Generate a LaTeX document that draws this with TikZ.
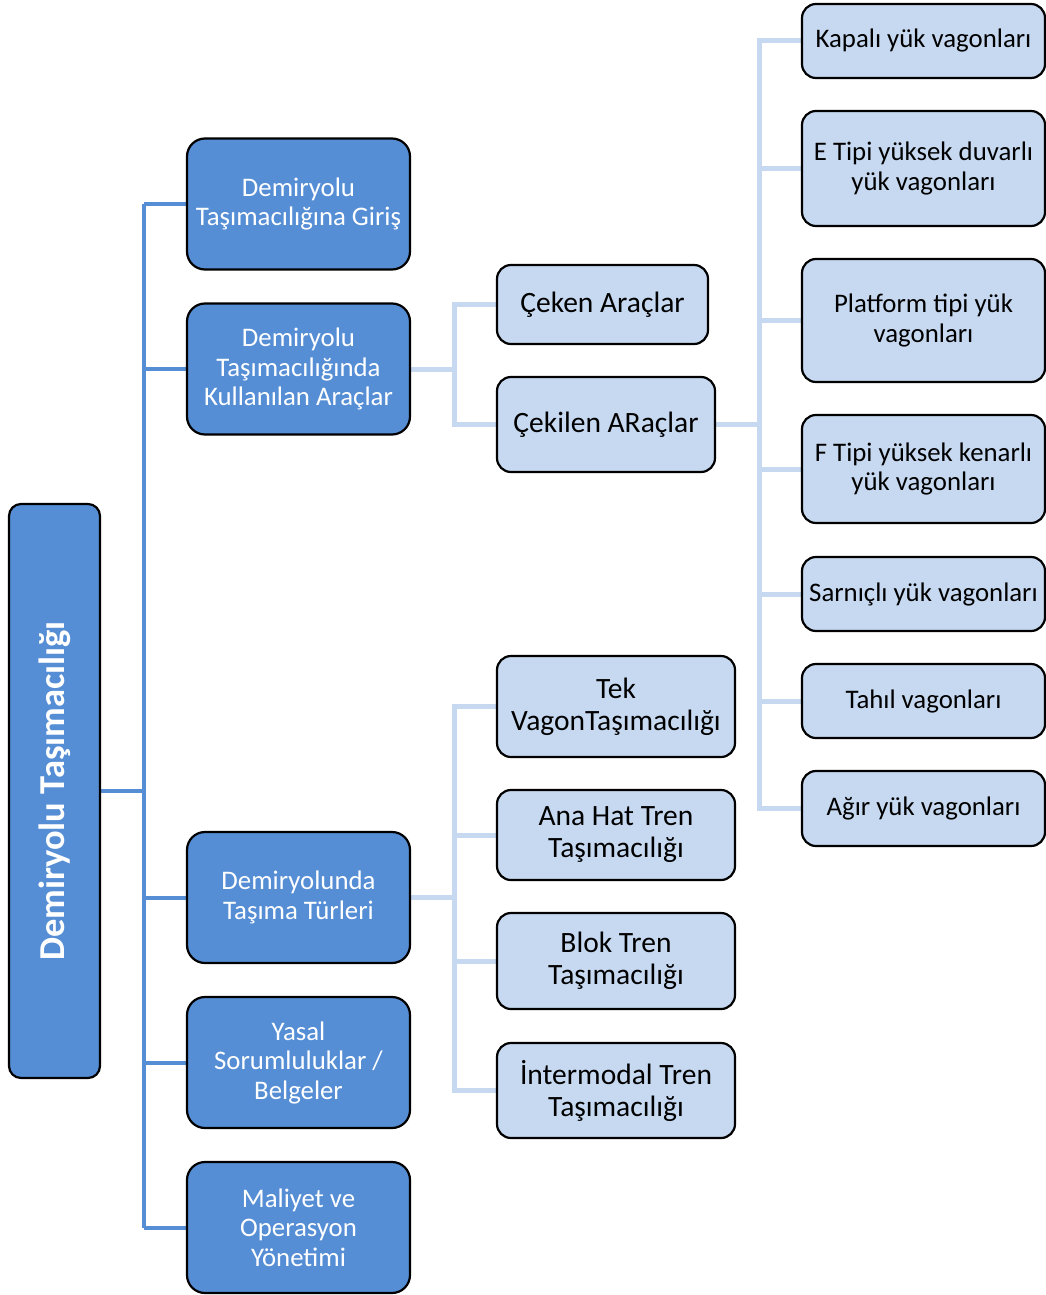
\documentclass[tikz,border=0pt]{standalone}
\usepackage{fontspec}
\setmainfont{Carlito}
\usetikzlibrary{backgrounds}

\definecolor{dkblue}{HTML}{558ED5}
\definecolor{ltblue}{HTML}{C6D9F1}

\tikzset{
  basebox/.style={draw=black, line width=2.2pt, align=center, inner sep=0pt},
  rootbox/.style={basebox, rounded corners=12pt, fill=dkblue, text=white,
    font=\fontsize{36.5}{40}\selectfont\bfseries},
  topic/.style={basebox, rounded corners=18pt, fill=dkblue, text=white,
    font=\fontsize{26.8}{29.5}\selectfont, minimum width=223pt, minimum height=131pt},
  sub/.style={basebox, rounded corners=14pt, fill=ltblue, text=black,
    font=\fontsize{29.5}{32}\selectfont},
  leaf/.style={basebox, rounded corners=14pt, fill=ltblue, text=black,
    font=\fontsize{26.8}{29.5}\selectfont, minimum width=243pt},
  darkline/.style={draw=dkblue, line width=4pt},
  lightline/.style={draw=ltblue, line width=5pt},
}

\begin{document}
\begin{tikzpicture}[x=1pt, y=-1pt]
\useasboundingbox (0,0) rectangle (1046,1295);

% root
\node[rootbox, rotate=90, minimum width=574pt, minimum height=91pt] (root) at (54.5,791) {Demiryolu Taşımacılığı};

% first level
\node[topic] (giris) at (298.5,204) {Demiryolu\\Taşımacılığına Giriş};
\node[topic] (araclar) at (298.5,369) {Demiryolu\\Taşımacılığında\\Kullanılan Araçlar};
\node[topic] (turler) at (298.5,897.5) {Demiryolunda\\Taşıma Türleri};
\node[topic] (yasal) at (298.5,1062.5) {Yasal\\Sorumluluklar /\\Belgeler};
\node[topic] (maliyet) at (298.5,1227.5) {Maliyet ve\\Operasyon\\Yönetimi};

% vehicles
\node[sub, minimum width=211pt, minimum height=79pt] (ceken) at (602.5,304.5) {Çeken Araçlar};
\node[sub, minimum width=218pt, minimum height=95pt] (cekilen) at (606,424.5) {Çekilen ARaçlar};

% transport types
\node[sub, minimum width=238pt, minimum height=101pt] (tek) at (616,706.5) {Tek\\VagonTaşımacılığı};
\node[sub, minimum width=238pt, minimum height=90pt] (anahat) at (616,835) {Ana Hat Tren\\Taşımacılığı};
\node[sub, minimum width=238pt, minimum height=96pt] (blok) at (616,961) {Blok Tren\\Taşımacılığı};
\node[sub, minimum width=238pt, minimum height=95pt] (inter) at (616,1090.5) {İntermodal Tren\\Taşımacılığı};

% wagon kinds
\node[leaf, minimum height=74pt] (kapali) at (923.5,41) {Kapalı yük vagonları};
\node[leaf, minimum height=115pt] (etipi) at (923.5,168.5) {E Tipi yüksek duvarlı\\yük vagonları};
\node[leaf, minimum height=123pt] (platform) at (923.5,320.5) {Platform tipi yük\\vagonları};
\node[leaf, minimum height=108pt] (ftipi) at (923.5,469) {F Tipi yüksek kenarlı\\yük vagonları};
\node[leaf, minimum height=74pt] (sarnicli) at (923.5,594) {Sarnıçlı yük vagonları};
\node[leaf, minimum height=74pt] (tahil) at (923.5,701) {Tahıl vagonları};
\node[leaf, minimum height=75pt] (agir) at (923.5,808.5) {Ağır yük vagonları};

% branch columns
\coordinate (trunkA) at (144,0);
\coordinate (trunkB) at (454,0);
\coordinate (trunkC) at (759,0);

\begin{pgfonlayer}{background}
  % main trunk
  \draw[darkline] (root.south) -- (trunkA |- root.south);
  \draw[darkline] (trunkA |- giris.west) -- (trunkA |- maliyet.west);
  \foreach \n in {giris,araclar,turler,yasal,maliyet}
    \draw[darkline] (trunkA |- \n.west) -- (\n.west);

  % vehicles branch
  \draw[lightline] (araclar.east) -- (trunkB |- araclar.east);
  \draw[lightline, line cap=rect] (trunkB |- ceken.west) -- (trunkB |- cekilen.west);
  \foreach \n in {ceken,cekilen}
    \draw[lightline] (trunkB |- \n.west) -- (\n.west);

  % transport types branch
  \draw[lightline] (turler.east) -- (trunkB |- turler.east);
  \draw[lightline, line cap=rect] (trunkB |- tek.west) -- (trunkB |- inter.west);
  \foreach \n in {tek,anahat,blok,inter}
    \draw[lightline] (trunkB |- \n.west) -- (\n.west);

  % wagon branch
  \draw[lightline] (cekilen.east) -- (trunkC |- cekilen.east);
  \draw[lightline, line cap=rect] (trunkC |- kapali.west) -- (trunkC |- agir.west);
  \foreach \n in {kapali,etipi,platform,ftipi,sarnicli,tahil,agir}
    \draw[lightline] (trunkC |- \n.west) -- (\n.west);
\end{pgfonlayer}
\end{tikzpicture}
\end{document}
